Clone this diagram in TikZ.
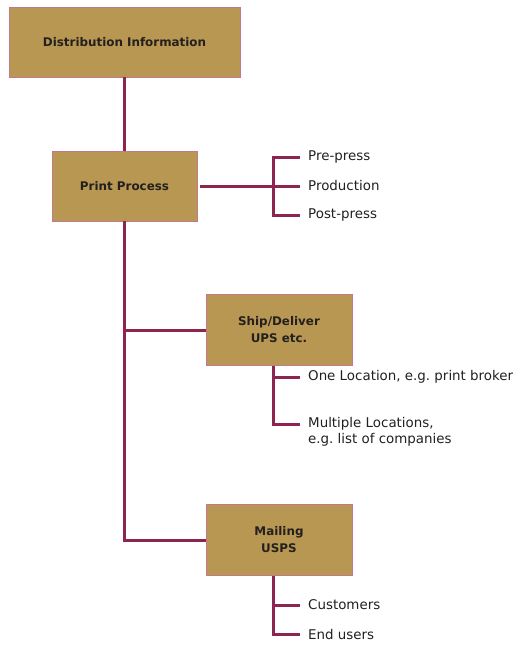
\documentclass[tikz,border=0pt]{standalone}
\usepackage{fontspec}
\setmainfont{DejaVu Sans}
\frenchspacing
\definecolor{boxfill}{RGB}{184,151,82}
\definecolor{boxedge}{RGB}{196,120,140}
\definecolor{linec}{RGB}{140,38,80}
\definecolor{txt}{RGB}{35,32,30}
\begin{document}
\begin{tikzpicture}[x=1pt,y=-1pt,
  box/.style={draw=boxedge, fill=boxfill, line width=0.9pt, align=center,
    font=\fontsize{11.9}{17}\selectfont\bfseries, text=txt, inner sep=0pt},
  conn/.style={draw=linec, line width=3pt, line join=miter},
  lab/.style={anchor=west, inner xsep=8pt, inner ysep=0pt, align=left,
    font=\fontsize{13.4}{16}\selectfont\frenchspacing, text=txt}]
\useasboundingbox (0,0) rectangle (524,645);
\node[box, minimum width=231, minimum height=70] (di) at (124.5,42) {Distribution Information};
\node[box, minimum width=145, minimum height=70] (pp) at (124.5,186) {Print Process};
\node[box, minimum width=146, minimum height=71] (sd) at (279,330) {Ship/Deliver\\UPS etc.};
\node[box, minimum width=146, minimum height=71] (ml) at (279,540) {Mailing\\USPS};
% labels
\node[lab] (pre) at (300,157) {Pre-press};
\node[lab] (prod) at (300,186) {Production};
\node[lab] (post) at (300,215) {Post-press};
\node[lab] (one) at (300,377) {One Location, e.g. print broker};
\node[lab] (multi) at (300,432) {Multiple Locations,\\e.g. list of companies};
\node[lab] (cust) at (300,605) {Customers};
\node[lab] (end) at (300,634) {End users};
% coordinates
\coordinate (t1) at (124.5,330);
\coordinate (t2) at (124.5,540);
\coordinate (k1) at (273,186);
\coordinate (k2) at (273,365.5);
\coordinate (k3) at (273,575.5);
\coordinate (m1) at (300,424);
% connectors
\draw[conn] (di) -- (pp);
\draw[conn] (pp.south) -- (t2) -- (ml.west);
\draw[conn] (t1) -- (sd.west);
\draw[conn] ([xshift=3pt]pp.east) -- (k1);
\draw[conn] (pre.west) -| (k1);
\draw[conn] (prod.west) -- (k1);
\draw[conn] (post.west) -| (k1);
\draw[conn] (k2) |- (one.west);
\draw[conn] (k2) |- (m1);
\draw[conn] (k3) |- (cust.west);
\draw[conn] (k3) |- (end.west);
\end{tikzpicture}
\end{document}
